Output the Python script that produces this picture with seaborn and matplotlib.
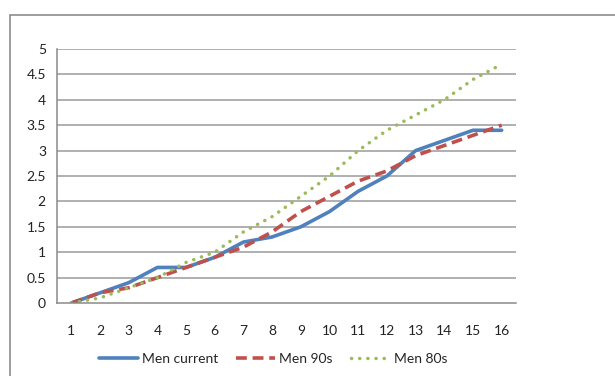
import matplotlib
matplotlib.use("Agg")
import matplotlib.pyplot as plt
from matplotlib.patches import Rectangle
from matplotlib.ticker import FixedLocator, NullFormatter
import seaborn as sns
import pandas as pd

categories = list(range(1, 17))
men_current = [0, 0.2, 0.4, 0.7, 0.7, 0.9, 1.2, 1.3, 1.5, 1.8, 2.2, 2.5, 3.0, 3.2, 3.4, 3.4]
men_90s = [0, 0.2, 0.3, 0.5, 0.7, 0.9, 1.1, 1.4, 1.8, 2.1, 2.4, 2.6, 2.9, 3.1, 3.3, 3.5]
men_80s = [0, 0.1, 0.3, 0.5, 0.8, 1.0, 1.4, 1.7, 2.1, 2.5, 3.0, 3.4, 3.7, 4.0, 4.4, 4.7]
y_ticks = [0, 0.5, 1, 1.5, 2, 2.5, 3, 3.5, 4, 4.5, 5]
y_labels = ["0", "0.5", "1", "1.5", "2", "2.5", "3", "3.5", "4", "4.5", "5"]

series = {"Men current": men_current, "Men 90s": men_90s, "Men 80s": men_80s}
df = pd.DataFrame({
    "x": categories * 3,
    "value": men_current + men_90s + men_80s,
    "series": sum([[name] * len(categories) for name in series], []),
})

sns.set_theme(style="white")
plt.rcParams["font.family"] = ["Lato", "DejaVu Sans"]

fig = plt.figure(figsize=(6.15, 3.76), dpi=100)
ax = fig.add_axes([57 / 615, 1 - 303 / 376, (516 - 57) / 615, (303 - 49) / 376])

styles = {
    "Men current": dict(color="#4F81BD", linestyle="-", linewidth=2.6),
    "Men 90s": dict(color="#C0504D", linestyle=(0, (3.0, 1.6)), linewidth=2.6),
    "Men 80s": dict(color="#9BBB59", linestyle=(0, (0.05, 2.3)), linewidth=2.5,
                    dash_capstyle="round"),
}
for name in series:
    sns.lineplot(data=df[df["series"] == name], x="x", y="value", ax=ax,
                 label=name, **styles[name])

ax.set_xlim(0.5, 16.5)
ax.set_ylim(0, 5)
ax.set_xlabel("")
ax.set_ylabel("")

# horizontal gridlines
for y in y_ticks[1:]:
    ax.axhline(y, color="#9A9A9A", linewidth=1.1, zorder=0)

ax.set_yticks(y_ticks)
ax.set_yticklabels(y_labels)
ax.set_xticks(categories)
ax.set_xticklabels([str(c) for c in categories])
ax.xaxis.set_minor_locator(FixedLocator([0.5 + k for k in range(17)]))
ax.xaxis.set_minor_formatter(NullFormatter())
ax.tick_params(axis="x", which="major", length=0, pad=16, labelsize=10, colors="#222222")
ax.tick_params(axis="x", which="minor", length=5, width=1, color="#8A8A8A", direction="out")
ax.tick_params(axis="y", which="major", length=5, width=1, color="#8A8A8A",
               direction="out", labelsize=10, labelcolor="#222222", pad=3)

for side in ["top", "right"]:
    ax.spines[side].set_visible(False)
for side in ["left", "bottom"]:
    ax.spines[side].set_color("#8A8A8A")
    ax.spines[side].set_linewidth(1.1)

ax.legend_.remove()
handles, labels = ax.get_legend_handles_labels()
fig.legend(handles, labels, loc="center", bbox_to_anchor=(273 / 615, 1 - 359 / 376),
           ncol=3, frameon=False, fontsize=10, handlelength=2.8,
           columnspacing=1.3, handletextpad=0.3)

# chart border
fig.patches.append(Rectangle((10 / 615, -0.1), 1.0, 1 - 15 / 376 + 0.1,
                             transform=fig.transFigure, fill=False,
                             edgecolor="#8C8C8C", linewidth=1.2))

fig.savefig("out.png", dpi=100)
